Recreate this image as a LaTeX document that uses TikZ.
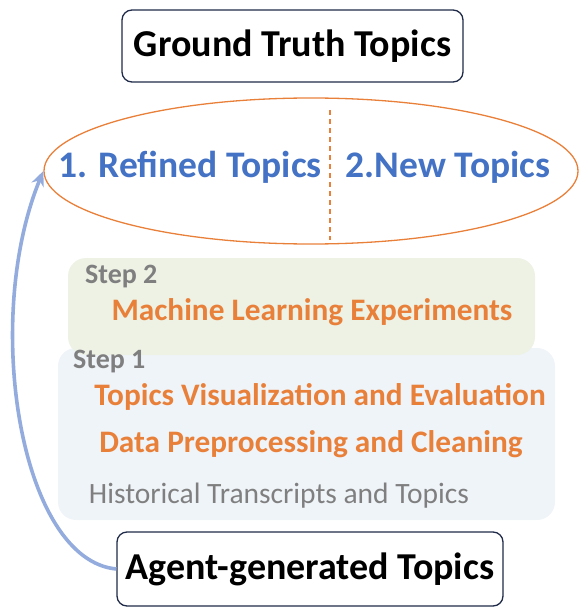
\documentclass[tikz,border=0pt]{standalone}
\usepackage{fontspec}
\setmainfont{Carlito}
\usepackage{xcolor}
\usetikzlibrary{positioning,arrows.meta,shapes.geometric}
\definecolor{boxnavy}{HTML}{1F2B48}
\definecolor{topicblue}{HTML}{4472C4}
\definecolor{steporange}{HTML}{E9803A}
\definecolor{stepgray}{HTML}{7F7F7F}
\definecolor{greenfill}{HTML}{EDF2E5}
\definecolor{bluefill}{HTML}{EFF4F9}
\definecolor{arrowblue}{HTML}{93ACDD}

\begin{document}
\begin{tikzpicture}[x=1pt, y=-1pt,
  titlebox/.style={draw=boxnavy, line width=1.3pt, rounded corners=10pt, fill=white, align=center, font=\fontsize{38}{42}\selectfont\bfseries},
  panel/.style={rounded corners=18pt, inner sep=0pt},
  topic/.style={text=topicblue, font=\fontsize{37.5}{42}\selectfont\bfseries, inner sep=0pt},
  task/.style={text=steporange, font=\fontsize{31.3}{36}\selectfont\bfseries, inner sep=0pt},
  steplabel/.style={text=stepgray, font=\fontsize{28}{32}\selectfont\bfseries, inner sep=0pt, anchor=west},
  >={Stealth[length=15pt, width=13pt]}]
\useasboundingbox (0,0) rectangle (584,612);
% step panels (step 1 behind step 2)
\node[panel, fill=bluefill, minimum width=497pt, minimum height=172pt] (panelone) at (306.5,434) {};
\node[panel, fill=greenfill, minimum width=467pt, minimum height=97pt] (paneltwo) at (301.5,306.5) {};
\node[steplabel] (steptwo) at (85,277) {Step 2};
\node[task] (mlexp) at (312,312) {Machine Learning Experiments};
\node[steplabel] (stepone) at (73,362) {Step 1};
\node[task] (viseval) at (320,397) {Topics Visualization and Evaluation};
\node[task] (prep) at (311,444) {Data Preprocessing and Cleaning};
\node[text=stepgray, font=\fontsize{29.5}{34}\selectfont, inner sep=0pt] (hist) at (279,496) {Historical Transcripts and Topics};
% result ellipse
\node[titlebox, minimum width=341pt, minimum height=72pt] (truth) at (292.5,46) {Ground Truth Topics};
\node[ellipse, draw=steporange, line width=1.3pt, minimum width=534pt, minimum height=146pt, inner sep=0pt] (found) at (311,171) {};
\draw[steporange, line width=1.3pt, dash pattern=on 5pt off 4pt] (330,110) -- (330,240);
\node[topic] (refined) at (190,167) {1. Refined Topics};
\node[topic] (newtopic) at (448,167) {2.New Topics};
\node[titlebox, minimum width=386pt, minimum height=74pt] (agent) at (310,569) {Agent-generated Topics};
\draw[->, arrowblue, line width=3.6pt] (agent.west) .. controls (20,560) and (-18,320) .. (found.west);
\end{tikzpicture}
\end{document}
